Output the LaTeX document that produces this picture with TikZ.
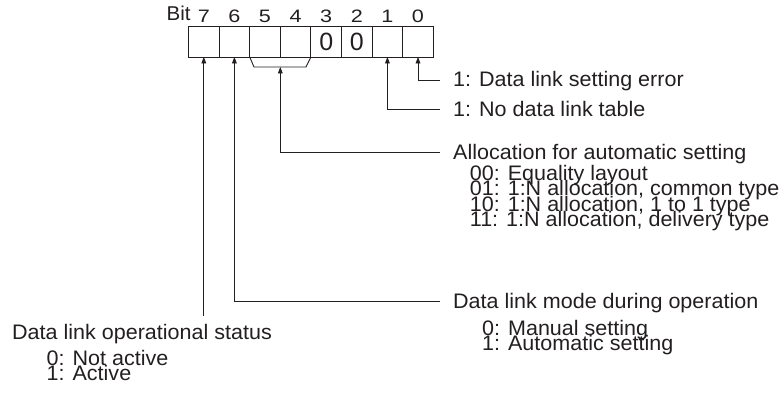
\documentclass[tikz,border=0pt]{standalone}
\usepackage{fontspec}
\setmainfont[FakeStretch=1.025]{Liberation Sans}
\newfontfamily\digfont[FakeStretch=1.2]{Liberation Sans}
\newfontfamily\zerofont{Liberation Sans}
\usetikzlibrary{arrows.meta}
\definecolor{ink}{RGB}{35,31,32}
\begin{document}
\begin{tikzpicture}[x=1pt,y=-1pt,
  cell/.style={draw=ink, line width=0.9pt, minimum width=30.6pt, minimum height=31pt,
    inner sep=0pt, outer sep=0pt, font=\zerofont\fontsize{25}{25}\selectfont, text=ink},
  txt/.style={anchor=base west, inner sep=0pt, text=ink, text height=14pt, text depth=1pt,
    font=\fontsize{21}{22}\selectfont},
  dig/.style={anchor=base, inner sep=0pt, text=ink, font=\digfont\fontsize{18}{18}\selectfont},
  conn/.style={draw=ink, line width=0.9pt},
  arr/.style={conn, -{Triangle[length=6.5pt,width=4.8pt]}}]
\useasboundingbox (0,0) rectangle (784,393);

% bit register
\node[txt, font=\fontsize{20}{20}\selectfont] (bit) at (166.5,20.7) {Bit};
\foreach \b/\i in {7/0,6/1,5/2,4/3,1/6,0/7} {
  \node[cell] (c\b) at ({203.8+30.6*\i},41.5) {};
}
\node[cell] (c3) at ({203.8+30.6*4},41.5) {0};
\node[cell] (c2) at ({203.8+30.6*5},41.5) {0};
\foreach \b/\i in {7/0,6/1,5/2,4/3,3/4,2/5,1/6,0/7} {
  \node[dig] (n\b) at ({203.8+30.6*\i},22.7) {\b};
}

% bracket under bits 5 and 4
\coordinate (bl) at (254,67);
\coordinate (brr) at (306,67);
\coordinate (bm) at (280.3,67);
\draw[conn] (c5.south west) -- (bl) -- (brr) -- (c4.south east);

% texts
\node[txt] (t0) at (453,87) {1: Data link setting error};
\node[txt] (t1) at (453,116.5) {1: No data link table};
\node[txt] (ta) at (453,159.7) {Allocation for automatic setting};
\node[txt] (ta0) at (469.7,180.3) {00: Equality layout};
\node[txt] (ta1) at (469.7,195.7) {01: 1:N allocation, common type};
\node[txt] (ta2) at (469.7,211.1) {10: 1:N allocation, 1 to 1 type};
\node[txt] (ta3) at (469.7,226.5) {11: 1:N allocation, delivery type};
\node[txt] (tm) at (453,308.7) {Data link mode during operation};
\node[txt] (tm0) at (482,335) {0: Manual setting};
\node[txt] (tm1) at (482,350.5) {1: Automatic setting};
\node[txt] (ts) at (12,339) {Data link operational status};
\node[txt] (ts0) at (46.5,365.3) {0: Not active};
\node[txt] (ts1) at (46.5,380.7) {1: Active};

% connectors
\coordinate (e0) at (440,80);
\coordinate (e1) at (440,109.5);
\coordinate (ea) at (440,152.7);
\coordinate (e6) at (440,301.7);
\coordinate (e7) at (203.8,316);
\draw[arr] (e0) -| (c0.south);
\draw[arr] (e1) -| (c1.south);
\draw[arr] (ea) -| (bm);
\draw[arr] (e6) -| (c6.south);
\draw[arr] (e7) -- (c7.south);
\end{tikzpicture}
\end{document}
